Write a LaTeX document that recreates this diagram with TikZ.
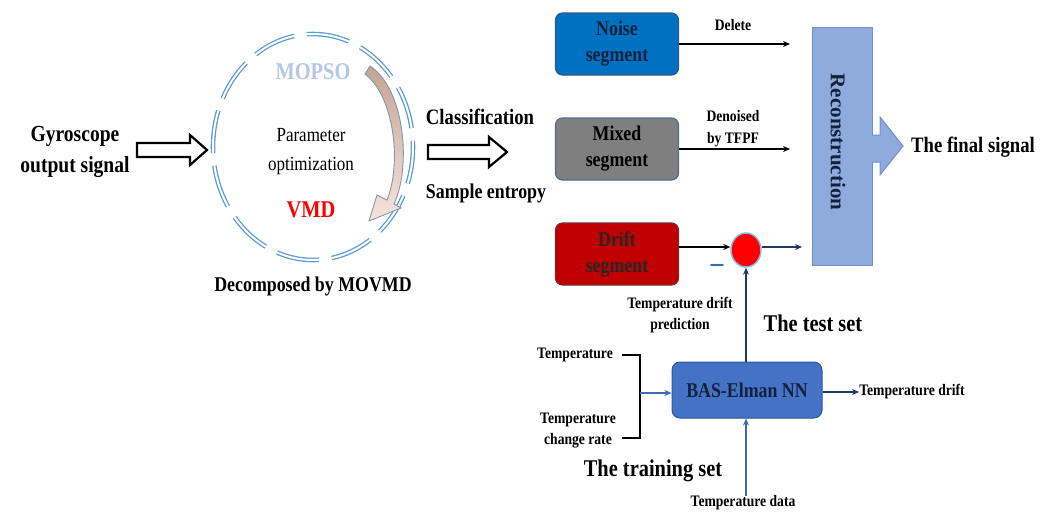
\documentclass[tikz,border=0pt]{standalone}
\usepackage{fontspec}
\setmainfont{Liberation Serif}[FakeStretch=0.85]
\newfontfamily\rfont{Liberation Serif}
\usetikzlibrary{arrows.meta,shapes.geometric}
\definecolor{ring}{HTML}{5B9BD5}
\definecolor{noisef}{HTML}{0070C0}
\definecolor{noised}{HTML}{2F5A8C}
\definecolor{mixf}{HTML}{7F7F7F}
\definecolor{mixd}{HTML}{4F6D8F}
\definecolor{driftf}{HTML}{C00000}
\definecolor{driftd}{HTML}{7A2A2A}
\definecolor{recf}{HTML}{8FAADC}
\definecolor{recd}{HTML}{7090C8}
\definecolor{basf}{HTML}{4472C4}
\definecolor{basd}{HTML}{2F5597}
\definecolor{navy}{HTML}{203864}
\definecolor{lblue}{HTML}{3D6BB3}
\definecolor{mops}{HTML}{B4C7E7}
\definecolor{boxtxt}{HTML}{14213D}
\definecolor{arrtop}{HTML}{C4A494}
\definecolor{arrbot}{HTML}{F6E4DC}
\definecolor{arrd}{HTML}{8497B0}
\definecolor{minusc}{HTML}{2E75B6}
\begin{document}
\begin{tikzpicture}[x=1pt,y=-1pt,
  lbl/.style={font=\bfseries\fontsize{16}{21}\selectfont, align=center, inner sep=0pt},
  big/.style={font=\bfseries\fontsize{21}{30}\selectfont, align=center, inner sep=0pt},
  huge/.style={font=\bfseries\fontsize{24}{28}\selectfont, align=center, inner sep=0pt},
  segbox/.style={rounded corners=7pt, minimum width=123pt, minimum height=62pt, line width=1.2pt,
     align=center, inner sep=0pt, font=\bfseries\fontsize{21}{26}\selectfont},
  hollow/.style={draw=black, line width=2.2pt, fill=white, line join=miter},
  blk/.style={line width=1.6pt, -{Stealth[length=7pt,width=6pt]}},
]
\useasboundingbox (0,0) rectangle (1048,512);

% ---- left text
\node[big, font=\bfseries\fontsize{23}{31}\selectfont] (gyro) at (75,152) {Gyroscope\\output signal};

% hollow arrow 1
\path[hollow] (137,143) -- (190,143) -- (190,135) -- (207,150) -- (190,165) -- (190,157) -- (137,157) -- cycle;

% ---- ring
\coordinate (rc) at (313,147);
\draw[ring, line width=1.3pt, double=white, double distance=2pt, dash pattern=on 43pt off 12.8pt, dash phase=6pt]
  (rc) ellipse [x radius=100, y radius=113];
\node[font=\bfseries\fontsize{24}{28}\selectfont, text=mops, inner sep=0pt] (mopso) at (313,72) {MOPSO};
\node[font=\fontsize{20}{29}\selectfont, align=center, inner sep=0pt] (param) at (311,152) {Parameter\\optimization};
\node[font=\bfseries\fontsize{24}{28}\selectfont, text=red, inner sep=0pt] (vmd) at (311,210) {VMD};
% curved arrow
\path[draw=arrd, line width=0.9pt, top color=arrtop, bottom color=arrbot]
  (370,66) .. controls (404,88) and (412,165) .. (394,204)
  -- (401,208) -- (369,221) -- (377,195) -- (387,200)
  .. controls (402,163) and (394,96) .. (365,74) -- cycle;
\node[big] (dec) at (313,286) {Decomposed by MOVMD};

% hollow arrow 2
\path[hollow] (428,145) -- (489,145) -- (489,137) -- (507,152) -- (489,167) -- (489,159) -- (428,159) -- cycle;
\node[font=\bfseries\fontsize{22}{26}\selectfont, inner sep=0pt] (cls) at (480,117) {Classification};
\node[big] (samp) at (486,193) {Sample entropy};

% ---- segment boxes
\node[segbox, fill=noisef, draw=noised, text=boxtxt] (noise) at (617,44) {Noise\\segment};
\node[segbox, fill=mixf, draw=mixd, text=black] (mixed) at (617,149) {Mixed\\segment};
\node[segbox, fill=driftf, draw=driftd, text=black!85] (drift) at (617,254) {Drift\\segment};

% ---- reconstruction
\node[fill=recf, draw=recd, line width=1pt, minimum width=60pt, minimum height=238pt, inner sep=0pt] (recon) at (842.5,146) {};
\node[rotate=-90, font=\rfont\bfseries\fontsize{21}{24}\selectfont, text=boxtxt, inner sep=0pt] (rtext) at (838,142) {Reconstruction};
\path[fill=recf, draw=recd, line width=1pt] (872,135) -- (880,135) -- (880,117) -- (903,146) -- (880,175) -- (880,162) -- (872,162);
\node[font=\bfseries\fontsize{22}{26}\selectfont, inner sep=0pt] (final) at (973,147) {The final signal};

% arrows to reconstruction
\draw[blk, black, shorten >=22pt] (noise.east) -- (noise.east -| recon.west);
\node[lbl] (del) at (733,25) {Delete};
\draw[blk, black, shorten >=22pt] (mixed.east) -- (mixed.east -| recon.west);
\node[lbl, font=\bfseries\fontsize{16}{22}\selectfont] (den) at (733,129) {Denoised\\by TFPF};

% summing node
\node[ellipse, fill=red, draw=ring!70, line width=1.5pt, minimum width=30pt, minimum height=34pt, inner sep=0pt] (sum) at (746,250) {};
\draw[blk, black] (drift.east |- 0,247) -- (sum.west |- 0,247);
\draw[blk, navy, shorten >=10pt] (sum.east |- 0,247) -- (recon.west |- 0,247);
\node[font=\bfseries\fontsize{30}{30}\selectfont, text=minusc, inner sep=0pt] (minus) at (717,268) {--};

% ---- BAS-Elman
\node[rounded corners=8pt, fill=basf, draw=basd, line width=1pt, minimum width=150pt, minimum height=56pt, inner sep=0pt,
   font=\bfseries\fontsize{21}{24}\selectfont, text=boxtxt] (bas) at (747,390) {BAS-Elman NN};
\draw[blk, navy] (bas.north -| sum.south) -- (sum.south);
\node[lbl] (tdp) at (680,315) {Temperature drift\\prediction};
\node[huge] (test) at (813,323) {The test set};
\node[lbl] (tdrift) at (912,392) {Temperature drift};
\draw[blk, navy] (bas.east |- tdrift.west) -- (tdrift.west);

% inputs
\node[lbl] (temp) at (575,355) {Temperature};
\node[lbl] (rate) at (578,431) {Temperature\\change rate};
\draw[line width=2pt, black] (622,355) -- (640,355) -- (640,438) -- (622,438);
\coordinate (brk) at (640,393);
\draw[blk, lblue] (brk) -- (bas.west |- brk);
\node[huge] (train) at (653,471) {The training set};
\node[lbl] (tdata) at (743,503) {Temperature data};
\draw[blk, lblue] (tdata.north -| sum.south) -- (bas.south -| sum.south);
\end{tikzpicture}
\end{document}
